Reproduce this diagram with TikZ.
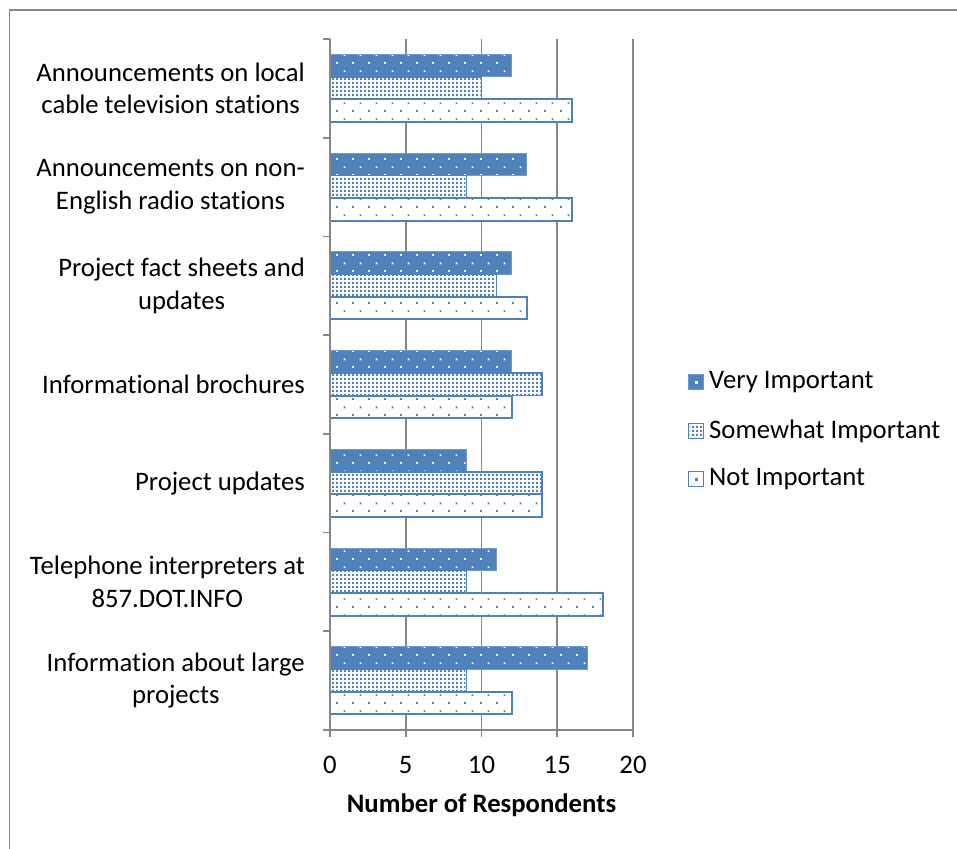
\documentclass[tikz,border=0pt]{standalone}
\usepackage{fontspec}
\setmainfont{Carlito}[Ligatures={NoCommon,NoContextual}]
\usetikzlibrary{patterns.meta}
\definecolor{barblue}{HTML}{4F81BD}
\definecolor{axisgray}{HTML}{868686}
\pgfdeclarepattern{
  name=sparsedots, type=uncolored,
  bottom left={\pgfpoint{0pt}{0pt}}, top right={\pgfpoint{16pt}{16pt}},
  tile size={\pgfpoint{16pt}{16pt}},
  code={
    \pgfpathrectangle{\pgfpoint{0pt}{0pt}}{\pgfpoint{2pt}{2pt}}
    \pgfpathrectangle{\pgfpoint{8pt}{8pt}}{\pgfpoint{2pt}{2pt}}
    \pgfusepath{fill}
  }
}
\pgfdeclarepattern{
  name=densedots, type=uncolored,
  bottom left={\pgfpoint{0pt}{0pt}}, top right={\pgfpoint{4pt}{4pt}},
  tile size={\pgfpoint{4pt}{4pt}},
  code={
    \pgfpathrectangle{\pgfpoint{0pt}{0pt}}{\pgfpoint{2.4pt}{2.4pt}}
    \pgfusepath{fill}
  }
}
\tikzset{
  gridline/.style={draw=axisgray, line width=1.8pt},
  axisline/.style={draw=axisgray, line width=1.8pt},
  vibar/.style={fill=barblue, draw=barblue!80!white, line width=1pt},
  vidots/.style={pattern=sparsedots, pattern color=white},
  sibar/.style={fill=white, draw=barblue, line width=1.4pt},
  sidots/.style={pattern=densedots, pattern color=barblue},
  nibar/.style={fill=white, draw=barblue, line width=2pt},
  nidots/.style={pattern=sparsedots, pattern color=barblue},
  catlabel/.style={anchor=east, align=center, inner sep=0pt, font=\fontsize{26.7}{32.7}\selectfont},
  ticklabel/.style={anchor=center, inner sep=0pt, font=\fontsize{26.7}{30}\selectfont},
  legtext/.style={anchor=west, inner sep=0pt, font=\fontsize{26.7}{30}\selectfont},
  axtitle/.style={anchor=center, inner sep=0pt, font=\fontsize{26.7}{30}\selectfont\bfseries},
}
\begin{document}
\begin{tikzpicture}[x=1pt,y=-1pt]
\useasboundingbox (0,0) rectangle (957,848);
\fill[white] (0,0) rectangle (957,848);
% outer frame
\draw[draw=axisgray, line width=1.5pt] (9.5,880) -- (9.5,10) -- (990,10);
% vertical gridlines
\foreach \v in {5,10,15,20}{
  \draw[gridline] ({330+\v*15.15},39) -- ({330+\v*15.15},737);
}
% bars
\foreach \i/\a/\b/\c in {0/12/10/16, 1/13/9/16, 2/12/11/13, 3/12/14/12, 4/9/14/14, 5/11/9/18, 6/17/9/12}{
  \pgfmathsetmacro\yt{39+\i*98.7+15.5}
  \pgfmathsetmacro\ym{\yt+22.5}
  \pgfmathsetmacro\yb{\yt+45}
  \pgfmathsetmacro\ye{\yt+67.5}
  \draw[vibar] (330,\yt) rectangle ({330+\a*15.15},\ym);
  \fill[vidots] (331,\yt+1) rectangle ({329+\a*15.15},\ym-1);
  \draw[sibar] (330,\ym) rectangle ({330+\b*15.15},\yb);
  \fill[sidots] (331,\ym+1) rectangle ({329+\b*15.15},\yb-1);
  \draw[nibar] (330,\yb) rectangle ({330+\c*15.15},\ye);
  \fill[nidots] (331,\yb+1) rectangle ({329+\c*15.15},\ye-1);
}
% axes
\draw[axisline] (330,39) -- (330,737);
\draw[axisline] (323,730) -- (633,730);
\foreach \k in {0,...,7}{
  \draw[axisline] (323,{39+\k*98.7}) -- (330,{39+\k*98.7});
}
% category labels
\node[catlabel] (c1) at (305,{39+0.5*98.7}) {Announcements on local\\cable television stations};
\node[catlabel] (c2) at (305,{39+1.5*98.7}) {Announcements on non-\\English radio stations};
\node[catlabel] (c3) at (305,{39+2.5*98.7}) {Project fact sheets and\\updates};
\node[catlabel] (c4) at (305,{39+3.5*98.7}) {Informational brochures};
\node[catlabel] (c5) at (305,{39+4.5*98.7}) {Project updates};
\node[catlabel] (c6) at (305,{39+5.5*98.7}) {Telephone interpreters at\\857.DOT.INFO};
\node[catlabel] (c7) at (305,{39+6.5*98.7}) {Information about large\\projects};
% tick labels
\foreach \v in {0,5,10,15,20}{
  \node[ticklabel] (t\v) at ({330+\v*15.15},765) {\v};
}
\node[axtitle] (xt) at (481.5,805) {Number of Respondents};
% legend
\draw[vibar] (688.5,374.5) rectangle (703.5,389.5);
\fill[white] (695,381) rectangle (697.5,383.5);
\node[legtext] (l1) at (709,382) {Very Important};
\draw[sibar] (688.5,423.5) rectangle (703.5,438.5);
\fill[sidots] (689.5,424.5) rectangle (702.5,437.5);
\node[legtext] (l2) at (709,431) {Somewhat Important};
\draw[nibar, line width=1.4pt] (688.5,471.5) rectangle (703.5,486.5);
\fill[barblue] (695,478) rectangle (697.5,480.5);
\node[legtext] (l3) at (709,479) {Not Important};
\end{tikzpicture}
\end{document}
